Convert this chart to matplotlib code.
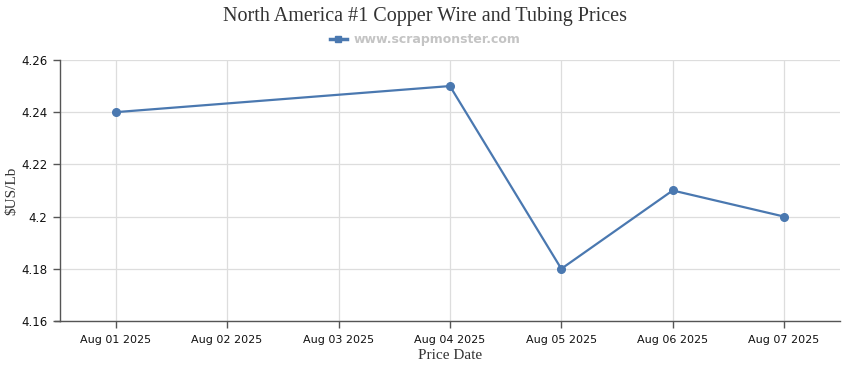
import matplotlib

matplotlib.use("Agg")
import matplotlib.pyplot as plt
from matplotlib.lines import Line2D

categories = ["Aug 01 2025", "Aug 02 2025", "Aug 03 2025", "Aug 04 2025",
              "Aug 05 2025", "Aug 06 2025", "Aug 07 2025"]
price_dates = ["Aug 01 2025", "Aug 04 2025", "Aug 05 2025", "Aug 06 2025", "Aug 07 2025"]
prices = [4.24, 4.25, 4.18, 4.21, 4.20]
y_ticks = [4.16, 4.18, 4.20, 4.22, 4.24, 4.26]
y_labels = ["4.16", "4.18", "4.2", "4.22", "4.24", "4.26"]

line_color = "#4a78b0"
serif = ["Liberation Serif", "DejaVu Serif"]

fig = plt.figure(figsize=(8.5, 3.7), dpi=100)
ax = fig.add_axes([0.0706, 0.1324, 0.9174, 0.7056])

xpos = [categories.index(d) for d in price_dates]
ax.plot(xpos, prices, "-o", color=line_color, lw=1.6, ms=5.5, zorder=3)

ax.set_xlim(-0.5, len(categories) - 0.5)
ax.set_ylim(4.16, 4.26)
ax.set_xticks(range(len(categories)))
ax.set_xticklabels(categories)
ax.set_yticks(y_ticks)
ax.set_yticklabels(y_labels)
ax.grid(True, color="#dddddd", lw=0.9)
ax.set_axisbelow(True)

for s in ("top", "right"):
    ax.spines[s].set_visible(False)
for s in ("left", "bottom"):
    ax.spines[s].set_color("#555555")
    ax.spines[s].set_linewidth(1.0)
# x axis line runs a little past the y axis, as in the source
ax.plot([-0.006, 0], [0, 0], transform=ax.transAxes, color="#555555", lw=1.0, clip_on=False)

ax.tick_params(axis="both", colors="#555555", labelcolor="#111111", labelsize=8, length=5, width=1.0)
ax.tick_params(axis="y", labelsize=8.5, pad=4)
ax.tick_params(axis="x", pad=5)

ax.set_xlabel("Price Date", family=serif, fontsize=11, color="#333333", labelpad=3)
ax.set_ylabel("$US/Lb", family=serif, fontsize=11, color="#333333", labelpad=2)

fig.text(0.5, 0.955, "North America #1 Copper Wire and Tubing Prices", ha="center", va="center",
         family=serif, fontsize=14.5, color="#333333")

handle = Line2D([], [], color=line_color, lw=2.5, marker="s", ms=5)
fig.legend([handle], ["www.scrapmonster.com"], loc="center", bbox_to_anchor=(0.5, 0.892),
           frameon=False, handlelength=1.4, handletextpad=0.5,
           prop={"weight": "bold", "size": 9}, labelcolor="#c4c4c4")

fig.savefig("out.png", dpi=100)
